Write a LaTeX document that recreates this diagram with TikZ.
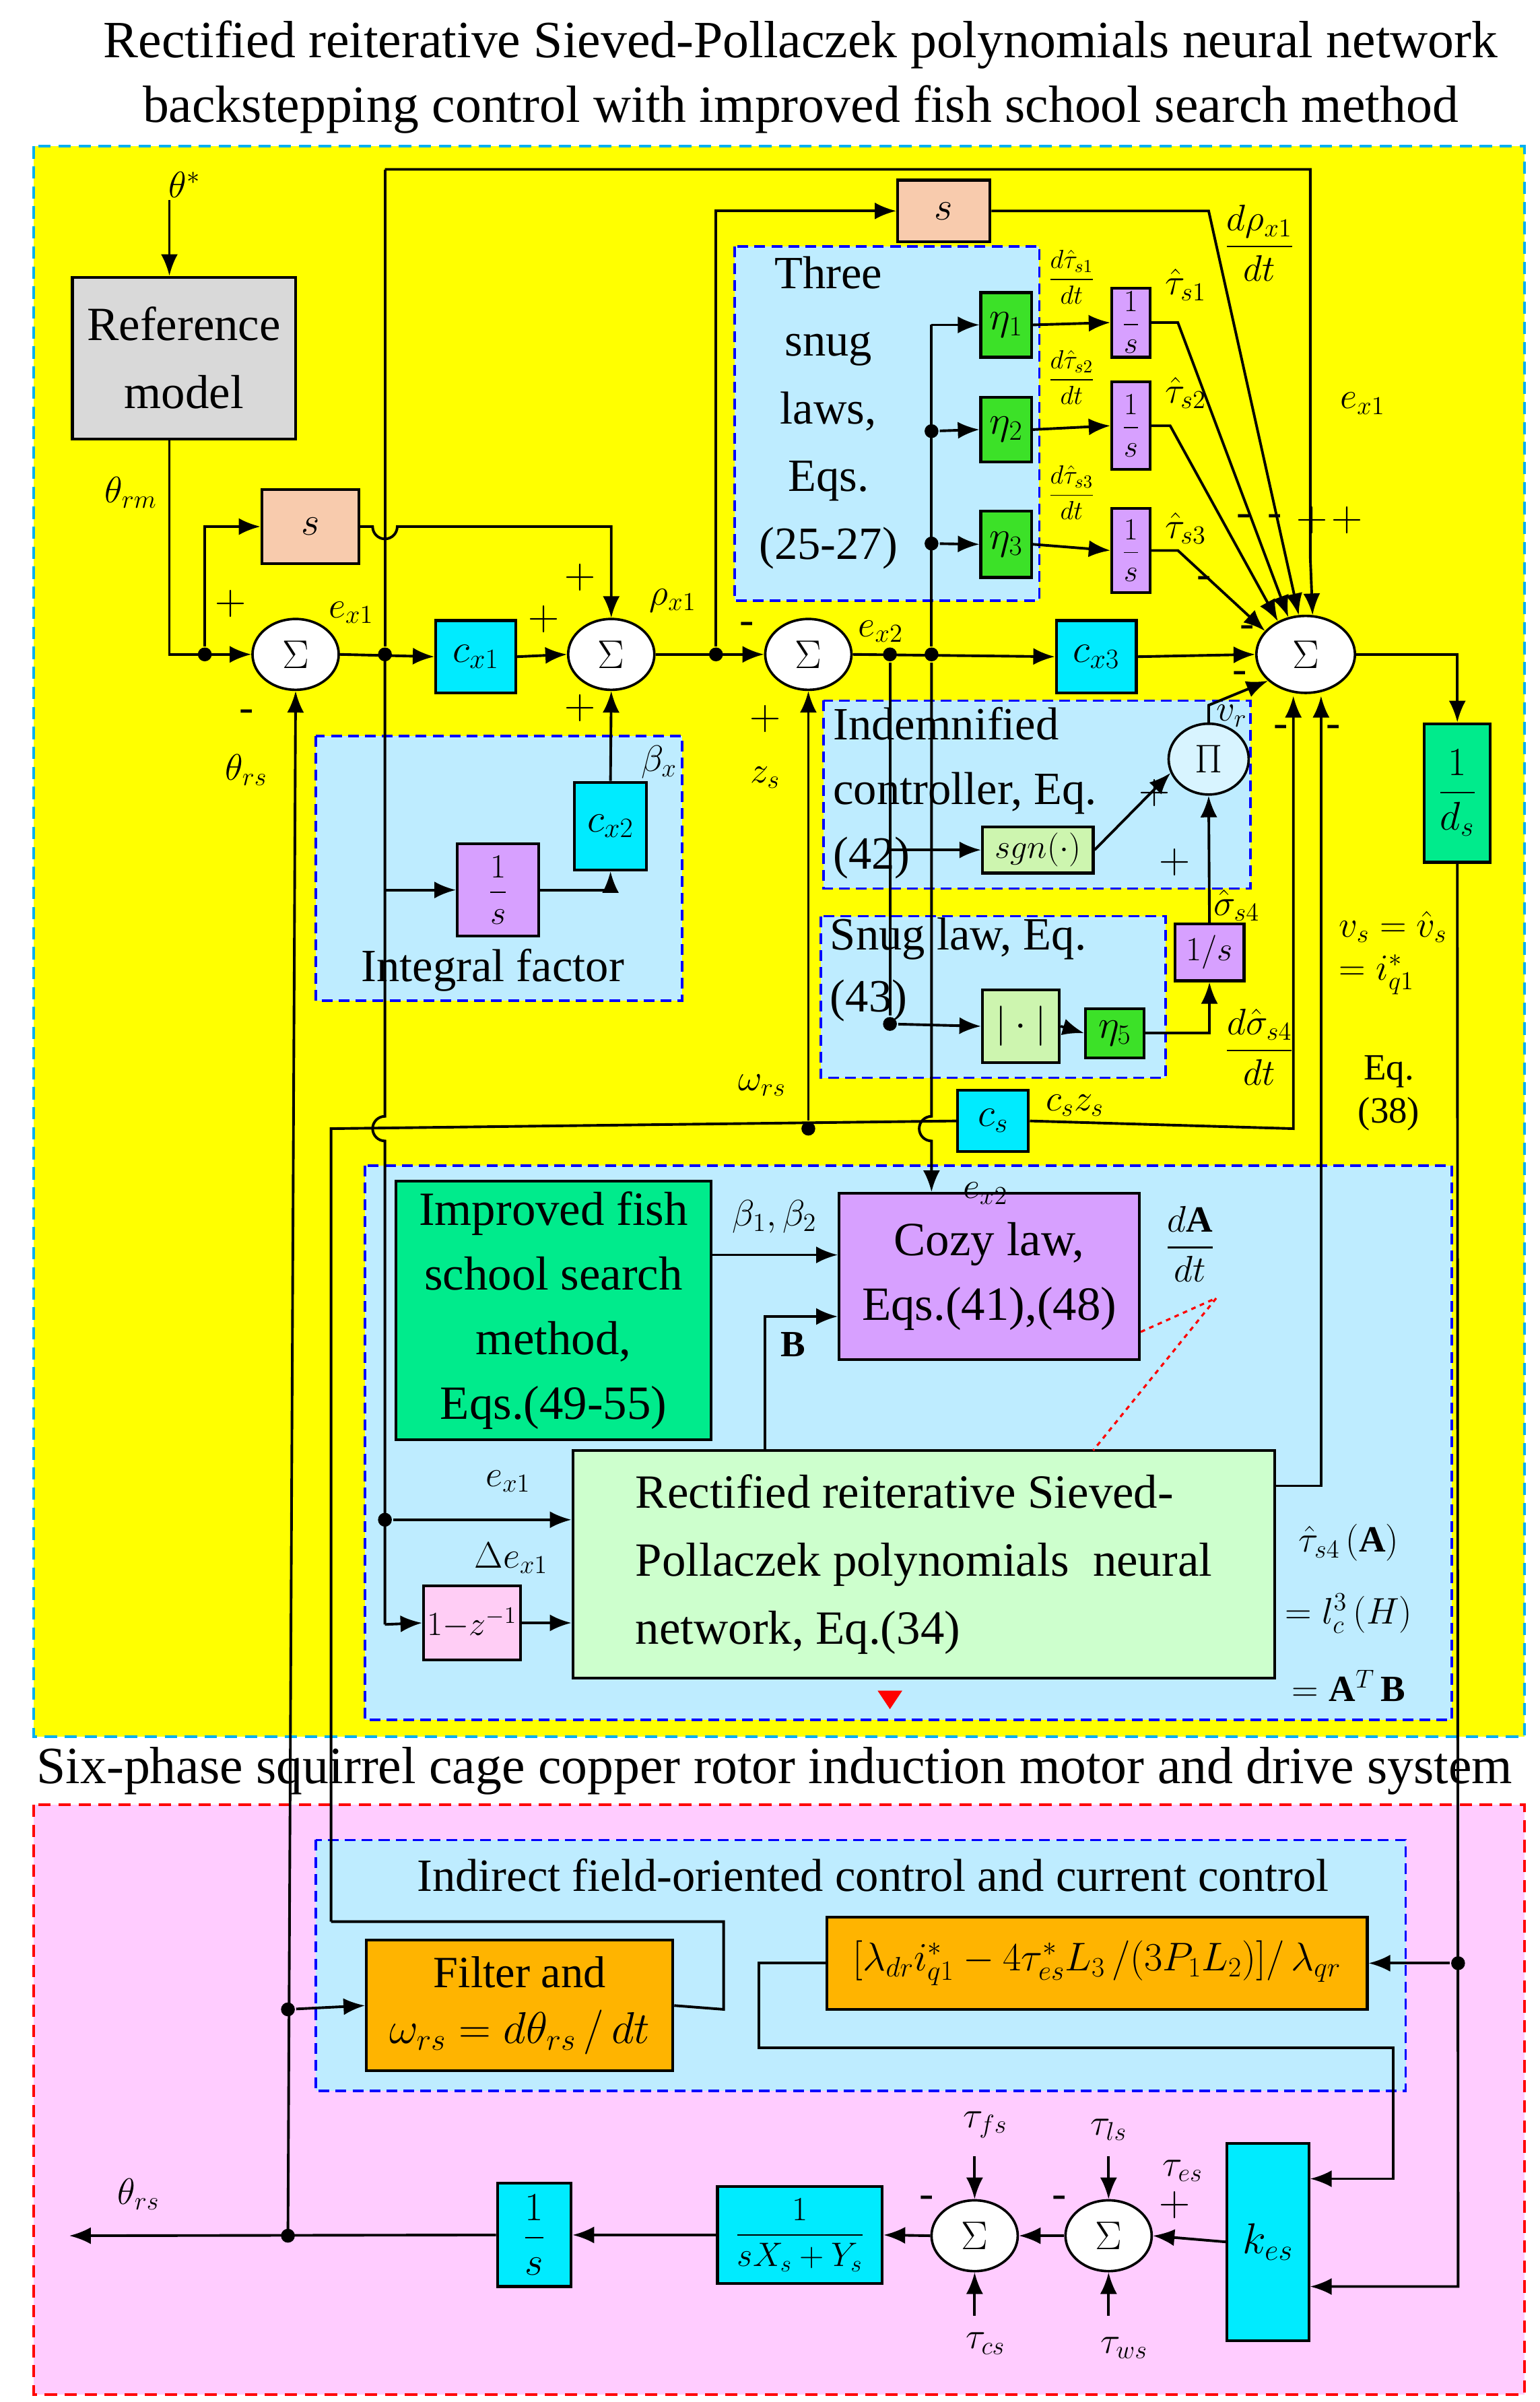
\RequirePackage{fix-cm}
\documentclass[tikz,border=0pt]{standalone}
\usepackage{amsmath}
\usepackage{fontspec}
\setmainfont{Liberation Serif}
\usetikzlibrary{shapes.geometric,arrows.meta}
\definecolor{yel}{RGB}{255,255,0}
\definecolor{pnk}{RGB}{255,204,255}
\definecolor{lb}{RGB}{190,236,255}
\definecolor{cyb}{RGB}{0,176,240}
\definecolor{org}{RGB}{248,203,173}
\definecolor{orb}{RGB}{255,180,0}
\definecolor{cy}{RGB}{0,235,255}
\definecolor{pur}{RGB}{215,160,255}
\definecolor{grn}{RGB}{60,225,40}
\definecolor{tgr}{RGB}{0,235,140}
\definecolor{lgr}{RGB}{205,245,175}
\definecolor{nng}{RGB}{205,255,205}
\definecolor{gry}{RGB}{217,217,217}
\definecolor{zpk}{RGB}{255,205,245}
\begin{document}
\begin{tikzpicture}[x=1pt,y=-1pt,line width=1.7pt,
  font=\fontsize{26}{30}\selectfont,
  >={Latex[length=14pt,width=11pt]},
  blk/.style={draw,line width=1.8pt,inner sep=1pt,align=center},
  sm/.style={draw,ellipse,fill=white,line width=1.6pt,minimum width=56pt,minimum height=46pt,inner sep=0pt},
  region/.style={dashed,line width=1.8pt,dash pattern=on 8pt off 5pt},
  lbox/.style={draw=blue,fill=lb,dashed,line width=1.6pt,dash pattern=on 7pt off 4pt},
  dot/.style={circle,fill=black,inner sep=0pt,minimum size=9pt},
  lab/.style={inner sep=1pt,font=\fontsize{24}{28}\selectfont},
  sg/.style={inner sep=0pt,font=\fontsize{28}{28}\selectfont}]
\useasboundingbox (0,0) rectangle (1000,1560);
\fill[white] (0,0) rectangle (1000,1560);
% titles
\node[font=\fontsize{34}{42}\selectfont,align=center] (t1) at (520,50) {Rectified reiterative Sieved-Pollaczek polynomials neural network\\backstepping control with improved fish school search method};
\draw[region,draw=cyb,fill=yel] (22,95) rectangle (990,1128);
\node[font=\fontsize{34}{40}\selectfont] (t2) at (503,1150) {Six-phase squirrel cage copper rotor induction motor and drive system};
\draw[region,draw=red,fill=pnk] (22,1172) rectangle (990,1555);
% light boxes
\draw[lbox] (477,160) rectangle (675,390);
\draw[lbox] (205,478) rectangle (443,650);
\draw[lbox] (535,455) rectangle (812,577);
\draw[lbox] (533,595) rectangle (757,700);
\draw[lbox] (237,757) rectangle (943,1117);
\draw[lbox] (205,1195) rectangle (913,1358);
% texts in light boxes
\node[align=center,font=\fontsize{30}{44}\selectfont] (tsl) at (538,268) {Three\\snug\\laws,\\Eqs.\\(25-27)};
\node[font=\fontsize{30}{32}\selectfont] (ifx) at (320,630) {Integral factor};
\node[align=left,font=\fontsize{30}{42}\selectfont,anchor=north west] (ic) at (537,455) {Indemnified\\controller, Eq.\\(42)};
\node[align=left,font=\fontsize{30}{40}\selectfont,anchor=north west] (sle) at (535,592) {Snug law, Eq.\\(43)};
\node[font=\fontsize{30}{32}\selectfont] (ifoc) at (567,1218) {Indirect field-oriented control and current control};
% blocks
\node[blk,fill=gry,minimum width=145pt,minimum height=105pt,font=\fontsize{31}{44}\selectfont] (ref) at (119.5,232.5) {Reference\\model};
\node[blk,fill=org,minimum width=63pt,minimum height=48pt] (sA) at (201.5,342) {$s$};
\node[blk,fill=cy,minimum width=52pt,minimum height=47pt] (cx1) at (309,426.5) {$c_{x1}$};
\node[blk,fill=cy,minimum width=47pt,minimum height=57pt] (cx2) at (396.5,536.5) {$c_{x2}$};
\node[blk,fill=pur,minimum width=53pt,minimum height=60pt,font=\fontsize{22}{24}\selectfont] (int1) at (323.5,578) {$\dfrac{1}{s}$};
\node[blk,fill=org,minimum width=60pt,minimum height=40pt] (sT) at (613,137) {$s$};
\node[blk,fill=grn,minimum width=33pt,minimum height=42pt] (e1) at (653.5,211) {$\eta_1$};
\node[blk,fill=grn,minimum width=33pt,minimum height=42pt] (e2) at (653.5,279) {$\eta_2$};
\node[blk,fill=grn,minimum width=33pt,minimum height=43pt] (e3) at (653.5,353.5) {$\eta_3$};
\node[blk,fill=pur,minimum width=25pt,minimum height=45pt,font=\fontsize{20}{22}\selectfont] (i1) at (734.5,209.5) {$\dfrac{1}{s}$};
\node[blk,fill=pur,minimum width=25pt,minimum height=57pt,font=\fontsize{20}{22}\selectfont] (i2) at (734.5,276.5) {$\dfrac{1}{s}$};
\node[blk,fill=pur,minimum width=25pt,minimum height=55pt,font=\fontsize{20}{22}\selectfont] (i3) at (734.5,357.5) {$\dfrac{1}{s}$};
\node[blk,fill=cy,minimum width=52pt,minimum height=47pt] (cx3) at (712,426.5) {$c_{x3}$};
\node[blk,fill=tgr,minimum width=43pt,minimum height=90pt] (ds) at (946.5,515) {$\dfrac{1}{d_s}$};
\node[blk,fill=lgr,minimum width=72pt,minimum height=30pt,font=\fontsize{22}{24}\selectfont] (sgn) at (674,552) {$sgn(\cdot)$};
\node[blk,fill=lgr,minimum width=50pt,minimum height=47pt] (abs) at (663,666.5) {$|\cdot|$};
\node[blk,fill=grn,minimum width=38pt,minimum height=32pt] (e5) at (724,671) {$\eta_5$};
\node[blk,fill=pur,minimum width=45pt,minimum height=37pt,font=\fontsize{22}{24}\selectfont] (i4) at (785.5,618.5) {$1/s$};
\node[blk,fill=cy,minimum width=46pt,minimum height=40pt] (cs) at (645,728) {$c_s$};
\node[blk,fill=tgr,minimum width=205pt,minimum height=168pt,font=\fontsize{31}{42}\selectfont] (fish) at (359.5,851) {Improved fish\\school search\\method,\\Eqs.(49-55)};
\node[blk,fill=pur,minimum width=195pt,minimum height=108pt,font=\fontsize{31}{42}\selectfont] (cozy) at (642.5,829) {Cozy law,\\Eqs.(41),(48)};
\node[blk,fill=nng,minimum width=456pt,minimum height=148pt,align=left,font=\fontsize{31}{44}\selectfont] (nn) at (600,1016) {Rectified reiterative Sieved-\\Pollaczek polynomials\ \ neural\\network, Eq.(34)};
\node[blk,fill=zpk,minimum width=63pt,minimum height=48pt,font=\fontsize{22}{24}\selectfont] (z1) at (306.5,1054) {$1{-}z^{-1}$};
\node[blk,fill=orb,minimum width=199pt,minimum height=85pt,font=\fontsize{29}{36}\selectfont] (filt) at (337.5,1302.5) {Filter and\\$\omega_{rs}=d\theta_{rs}\,/\,dt$};
\node[blk,fill=orb,minimum width=351pt,minimum height=60pt] (lam) at (712.5,1275) {$[\lambda_{dr}i_{q1}^{*}-4\tau_{es}^{*}L_3\,/(3P_1L_2)]/\,\lambda_{qr}$};
\node[blk,fill=cy,minimum width=53pt,minimum height=128pt,font=\fontsize{28}{30}\selectfont] (kes) at (823.5,1456) {$k_{es}$};
\node[blk,fill=cy,minimum width=107pt,minimum height=63pt,font=\fontsize{22}{24}\selectfont] (tf) at (519.5,1451.5) {$\dfrac{1}{sX_s+Y_s}$};
\node[blk,fill=cy,minimum width=48pt,minimum height=67pt] (i5) at (347,1451.5) {$\dfrac{1}{s}$};
% sums
\node[sm] (S1) at (192,425) {$\Sigma$};
\node[sm] (S2) at (397,425) {$\Sigma$};
\node[sm] (S3) at (525,425) {$\Sigma$};
\node[sm,minimum width=64pt,minimum height=50pt] (S4) at (848,425) {$\Sigma$};
\node[sm,fill=lb!60!white,minimum width=52pt,minimum height=46pt] (Pi) at (785,493) {$\Pi$};
\node[sm] (S5) at (720,1452) {$\Sigma$};
\node[sm] (S6) at (633,1452) {$\Sigma$};
% coordinates / dots
\node[dot] (d1) at (133,425) {};
\node[dot] (d2) at (250,425) {};
\node[dot] (d3) at (465,425) {};
\node[dot] (d4) at (605,425) {};
\node[dot] (d5) at (578,425) {};
\node[dot] (d6) at (525,733) {};
\node[dot] (d7) at (187,1452) {};
\node[dot] (d8) at (187,1305) {};
\node[dot] (d9) at (947,1275) {};
\node[dot] (d10) at (250,987) {};
\node[dot] (d11) at (605,280) {};
\node[dot] (d12) at (605,353) {};
\node[dot] (d13) at (578,665) {};
\coordinate (thst) at (110,130);
\coordinate (thrsend) at (45,1452);
% ---- connectors ----
\draw[->] (thst) -- (thst|-ref.north);
\draw[->] (thst|-ref.south) -- (110,425) -- (S1.west);
\draw[->] (d1) -- (133,342) -- (sA.west);
\draw[->] (sA.east) -- (242,342) arc[start angle=180,end angle=0,radius=8] -- (397,342) -- (S2.north);
\draw[->] (S1.east) -- (cx1.west);
\draw[->] (cx1.east) -- (S2.west);
\draw[->] (cx2.north) -- (S2.south);
\draw[->] (int1.east) -- (396.5,578) -- (cx2.south);
\draw[->] (250,578) -- (int1.west);
\draw[->] (S2.east) -- (S3.west);
\draw[->] (d3) -- (465,137) -- (sT.west);
\draw[->] (S3.east) -- (cx3.west);
\draw[->] (cx3.east) -- (S4.west);
% e_x1 top line
\draw (d2) -- (250,110);
\draw[->] (250,110) -- (851,110) -- (851,362) -- (S4.80);
\draw (250,425) -- (250,725) arc[start angle=-90,end angle=-270,radius=8] -- (250,1055);
\draw[->] (d10) -- (nn.west|-d10);
\draw[->] (250,1055) -- (z1.west);
\draw[->] (z1.east) -- (nn.west|-z1);
% snug laws
\draw[->] (d4) -- (605,725) arc[start angle=-90,end angle=-270,radius=8] -- (cozy.north-|605,0);
\draw[->] (605,211) -- (e1.west);
\draw (605,211) -- (d4);
\draw[->] (d11) -- (e2.west);
\draw[->] (d12) -- (e3.west);
\draw[->] (e1.east) -- (i1.west);
\draw[->] (e2.east) -- (i2.west);
\draw[->] (e3.east) -- (i3.west);
\draw[->] (sT.east) -- (785,137) -- (S4.100);
\draw[->] (i1.east) -- (765,209.5) -- (S4.115);
\draw[->] (i2.east) -- (760,276.5) -- (S4.130);
\draw[->] (i3.east) -- (765,357.5) -- (S4.150);
\draw[->] (S4.east) -- (946.5,425) -- (ds.north);
% indemnified
\draw (d5) -- (d13);
\draw[->] (578,552) -- (sgn.west);
\draw[->] (d13) -- (abs.west);
\draw[->] (abs.east) -- (e5.west);
\draw[->] (sgn.east) -- (Pi.200);
\draw[->] (e5.east) -- (785.5,671) -- (i4.south);
\draw[->] (i4.north) -- (Pi.south);
\draw[->] (Pi.north) -- (785,458) -- (S4.215);
% cs and zs
\draw (215,1248) -- (215,733) -- (cs.west);
\draw[->] (d6) -- (S3.south);
\draw[->] (cs.east) -- (840,733) -- (840,452);
\draw[->] (nn.east|-0,965) -- (858,965) -- (858,452);
% NN region
\draw[->] (fish.east|-0,815) -- (cozy.west|-0,815);
\draw[->] (497,942) -- (497,855) -- (cozy.west|-0,855);
\draw[red,dashed,line width=1.4pt] (cozy.east|-0,865) -- (790,843) -- (710,942);
\fill[red] (570,1098) -- (586,1098) -- (578,1110) -- cycle;
% bottom
\draw (filt.east) -- (470,1305) -- (470,1248) -- (215,1248);
\draw[->] (d8) -- (filt.west);
\draw[->] (187,1452) -- (S1.south);
\draw[->] (i5.west) -- (thrsend);
\draw[->] (tf.west) -- (i5.east);
\draw[->] (S6.west) -- (tf.east);
\draw[->] (S5.west) -- (S6.east);
\draw[->] (kes.west) -- (S5.east);
\draw[->] (ds.south) -- (947,1485) -- (kes.east|-0,1485);
\draw[->] (d9) -- (lam.east);
\draw[->] (lam.west) -- (493,1275) -- (493,1330) -- (905,1330) -- (905,1415) -- (kes.east|-0,1415);
\draw[<-] (S5.north) -- ++(0,-28) coordinate (tls);
\draw[<-] (S5.south) -- ++(0,28) coordinate (tws);
\draw[<-] (S6.north) -- ++(0,-28) coordinate (tfs);
\draw[<-] (S6.south) -- ++(0,28) coordinate (tcs);
% ---- labels ----
\node[lab] (l1) at (120,120) {$\theta^{*}$};
\node[lab] (l2) at (85,320) {$\theta_{rm}$};
\node[lab] (l3) at (160,500) {$\theta_{rs}$};
\node[sg] (p1) at (150,392) {$+$};
\node[sg] (m1) at (160,465) {-};
\node[lab] (l4) at (228,398) {$e_{x1}$};
\node[sg] (p2) at (353,402) {$+$};
\node[sg] (p3) at (377,375) {$+$};
\node[sg] (p4) at (377,460) {$+$};
\node[lab] (l5) at (437,390) {$\rho_{x1}$};
\node[lab] (l6) at (428,495) {$\beta_{x}$};
\node[sg] (m2) at (485,408) {-};
\node[lab] (l7) at (572,410) {$e_{x2}$};
\node[sg] (p5) at (497,467) {$+$};
\node[lab] (l8) at (497,505) {$z_s$};
\node[lab] (l9) at (495,705) {$\omega_{rs}$};
\node[lab,font=\fontsize{17}{18}\selectfont] (la1) at (696,180) {$\dfrac{d\hat\tau_{s1}}{dt}$};
\node[lab,font=\fontsize{17}{18}\selectfont] (la2) at (696,245) {$\dfrac{d\hat\tau_{s2}}{dt}$};
\node[lab,font=\fontsize{17}{18}\selectfont] (la3) at (696,320) {$\dfrac{d\hat\tau_{s3}}{dt}$};
\node[lab] (l10) at (770,185) {$\hat\tau_{s1}$};
\node[lab] (l11) at (770,255) {$\hat\tau_{s2}$};
\node[lab] (l12) at (770,343) {$\hat\tau_{s3}$};
\node[lab] (l13) at (818,158) {$\dfrac{d\rho_{x1}}{dt}$};
\node[lab] (l14) at (885,262) {$e_{x1}$};
\node[sg] (s1) at (782,378) {-};
\node[sg] (s2) at (808,338) {-};
\node[sg] (s3) at (828,338) {-};
\node[sg] (s4) at (852,338) {$+$};
\node[sg] (s5) at (875,338) {$+$};
\node[sg] (s6) at (810,410) {-};
\node[sg] (s7) at (805,440) {-};
\node[sg] (s8) at (832,475) {-};
\node[sg] (s9) at (866,475) {-};
\node[lab] (l15) at (800,465) {$v_r$};
\node[sg] (s10) at (750,515) {$+$};
\node[sg] (s11) at (763,560) {$+$};
\node[lab] (l16) at (803,588) {$\hat\sigma_{s4}$};
\node[lab] (l17) at (818,680) {$\dfrac{d\hat\sigma_{s4}}{dt}$};
\node[lab] (l18) at (698,718) {$c_s z_s$};
\node[lab,align=left,anchor=north west] (l19) at (868,590) {$v_s=\hat v_s$\\$=i_{q1}^{*}$};
\node[lab,align=center] (l20) at (902,710) {Eq.\\(38)};
\node[lab] (l21) at (640,775) {$e_{x2}$};
\node[lab] (l22) at (503,790) {$\beta_1,\beta_2$};
\node[lab] (l23) at (773,808) {$\dfrac{d\mathbf{A}}{dt}$};
\node[lab] (l24) at (515,873) {$\mathbf{B}$};
\node[lab] (l25) at (330,962) {$e_{x1}$};
\node[lab] (l26) at (332,1012) {$\Delta e_{x1}$};
\node[lab] (l27) at (876,1002) {$\hat\tau_{s4}\,(\mathbf{A})$};
\node[lab] (l28) at (876,1048) {$=l_c^{3}\,(H)$};
\node[lab] (l29) at (876,1095) {$=\mathbf{A}^{T}\,\mathbf{B}$};
\node[lab] (l30) at (90,1425) {$\theta_{rs}$};
\node[lab] (l31) at (640,1380) {$\tau_{fs}$};
\node[lab] (l32) at (720,1383) {$\tau_{ls}$};
\node[lab] (l33) at (768,1410) {$\tau_{es}$};
\node[sg] (s12) at (763,1432) {$+$};
\node[sg] (s13) at (688,1430) {-};
\node[sg] (s14) at (602,1430) {-};
\node[lab] (l34) at (640,1522) {$\tau_{cs}$};
\node[lab] (l35) at (730,1525) {$\tau_{ws}$};
\end{tikzpicture}
\end{document}
